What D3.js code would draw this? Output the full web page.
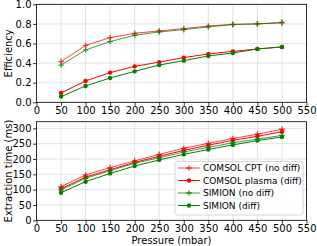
<!DOCTYPE html>
<html>
<head>
<meta charset="utf-8">
<script src="https://cdn.jsdelivr.net/npm/d3@7"></script>
<style>
  body { margin: 0; background: #fff; }
  svg { font-family: "DejaVu Sans", sans-serif; }
</style>
</head>
<body>
<svg id="chart" width="317" height="246"></svg>
<script>
const pressure = [50, 100, 150, 200, 250, 300, 350, 400, 450, 500];
const xTicks = [0, 50, 100, 150, 200, 250, 300, 350, 400, 450, 500, 550];

// efficiency
const effCptNoDiff    = [0.415, 0.58, 0.66, 0.704, 0.728, 0.752, 0.778, 0.796, 0.80, 0.81];
const effPlasmaDiff   = [0.095, 0.218, 0.303, 0.367, 0.41, 0.456, 0.493, 0.52, 0.544, 0.565];
const effSimionNoDiff = [0.38, 0.534, 0.62, 0.684, 0.718, 0.741, 0.769, 0.793, 0.80, 0.816];
const effSimionDiff   = [0.058, 0.167, 0.248, 0.316, 0.38, 0.425, 0.473, 0.503, 0.544, 0.565];
const effTicks = [0.0, 0.2, 0.4, 0.6, 0.8, 1.0];

// extraction time (ms)
const timeCptNoDiff    = [110, 148, 172, 194, 215, 235, 251, 267, 281, 297];
const timePlasmaDiff   = [103, 141, 165, 189, 209, 228, 245, 261, 274, 289];
const timeSimionNoDiff = [99, 137, 162, 186, 204, 223, 238, 253, 265, 277];
const timeSimionDiff   = [90, 126, 153, 177, 197, 215, 231, 246, 260, 272];
const timeTicks = [0, 50, 100, 150, 200, 250, 300];

const seriesNames = ['COMSOL CPT (no diff)', 'COMSOL plasma (diff)', 'SIMION (no diff)', 'SIMION (diff)'];
const seriesColors = ['#ff0000', '#ff0000', '#008000', '#008000'];
const seriesMarkers = ['plus', 'dot', 'plus', 'dot'];

const svg = d3.select('#chart');
const left = 36.5, right = 306.5;

const x = d3.scaleLinear().domain([0, 550]).range([left, right]);

function drawMarker(g, type, cx, cy, color){
  if(type === 'dot'){
    g.append('circle')
      .attr('cx', cx).attr('cy', cy).attr('r', 2.2)
      .attr('fill', color);
  } else {
    g.append('path')
      .attr('d', `M${cx-2.8},${cy}H${cx+2.8}M${cx},${cy-2.8}V${cy+2.8}`)
      .attr('stroke', color).attr('stroke-width', 1.3).attr('opacity', 0.75);
  }
}

function panel(top, bottom, yMax, yTicks, yFmt, series, yLabel){
  let y = d3.scaleLinear().domain([0, yMax]).range([bottom, top]);
  let g = svg.append('g');

  // grid
  g.selectAll('.gx').data(xTicks).enter().append('line')
    .attr('x1', d => x(d)).attr('x2', d => x(d))
    .attr('y1', top).attr('y2', bottom)
    .attr('stroke', '#dcdcdc').attr('stroke-width', 0.8);
  g.selectAll('.gy').data(yTicks).enter().append('line')
    .attr('x1', left).attr('x2', right)
    .attr('y1', d => y(d)).attr('y2', d => y(d))
    .attr('stroke', '#dcdcdc').attr('stroke-width', 0.8);

  // series
  let line = d3.line().x((d, i) => x(pressure[i])).y(d => y(d));
  series.forEach((vals, k) => {
    let col = seriesColors[k];
    g.append('path')
      .attr('d', line(vals))
      .attr('fill', 'none')
      .attr('stroke', col)
      .attr('stroke-width', 1)
      .attr('opacity', seriesMarkers[k] === 'plus' ? 0.75 : 1);
    vals.forEach((v, i) => drawMarker(g, seriesMarkers[k], x(pressure[i]), y(v), col));
  });

  // axes
  let xAxis = d3.axisBottom(x).tickValues(xTicks).tickSize(3.5).tickPadding(1.5);
  let yAxis = d3.axisLeft(y).tickValues(yTicks).tickFormat(yFmt).tickSize(3.5).tickPadding(1.5);
  let gx = g.append('g').attr('transform', `translate(0,${bottom})`).call(xAxis);
  let gy = g.append('g').attr('transform', `translate(${left},0)`).call(yAxis);
  [gx, gy].forEach(a => {
    a.select('.domain').remove();
    a.selectAll('text').attr('font-size', 10).attr('fill', '#000')
      .attr('font-family', '"DejaVu Sans", sans-serif');
    a.selectAll('line').attr('stroke', '#000').attr('stroke-width', 0.8);
  });

  // frame
  g.append('rect')
    .attr('x', left).attr('y', top)
    .attr('width', right - left).attr('height', bottom - top)
    .attr('fill', 'none').attr('stroke', '#000').attr('stroke-width', 0.8);

  g.append('text')
    .attr('transform', `translate(12,${(top + bottom) / 2}) rotate(-90)`)
    .attr('text-anchor', 'middle')
    .attr('font-size', 10)
    .text(yLabel);
  return y;
}

panel(4.3, 102.3, 1.0, effTicks, d3.format('.1f'),
  [effCptNoDiff, effPlasmaDiff, effSimionNoDiff, effSimionDiff], 'Efficiency');
panel(121.7, 220.3, 321.7, timeTicks, d3.format('d'),
  [timeCptNoDiff, timePlasmaDiff, timeSimionNoDiff, timeSimionDiff], 'Extraction time (ms)');

svg.append('text')
  .attr('x', (left + right) / 2).attr('y', 243.5)
  .attr('text-anchor', 'middle')
  .attr('font-size', 10)
  .text('Pressure (mbar)');

// legend
let lg = svg.append('g');
lg.append('rect')
  .attr('x', 175).attr('y', 161.5).attr('width', 128).attr('height', 53.5).attr('rx', 2)
  .attr('fill', '#fff').attr('fill-opacity', 0.85)
  .attr('stroke', '#cccccc').attr('stroke-width', 0.8);
seriesNames.forEach((name, k) => {
  let yy = 168 + k * 12.5;
  lg.append('line')
    .attr('x1', 178).attr('x2', 200).attr('y1', yy).attr('y2', yy)
    .attr('stroke', seriesColors[k]).attr('stroke-width', 1)
    .attr('opacity', seriesMarkers[k] === 'plus' ? 0.75 : 1);
  drawMarker(lg, seriesMarkers[k], 189, yy, seriesColors[k]);
  lg.append('text')
    .attr('x', 203).attr('y', yy + 3.3)
    .attr('font-size', 9)
    .text(name);
});
</script>
</body>
</html>
